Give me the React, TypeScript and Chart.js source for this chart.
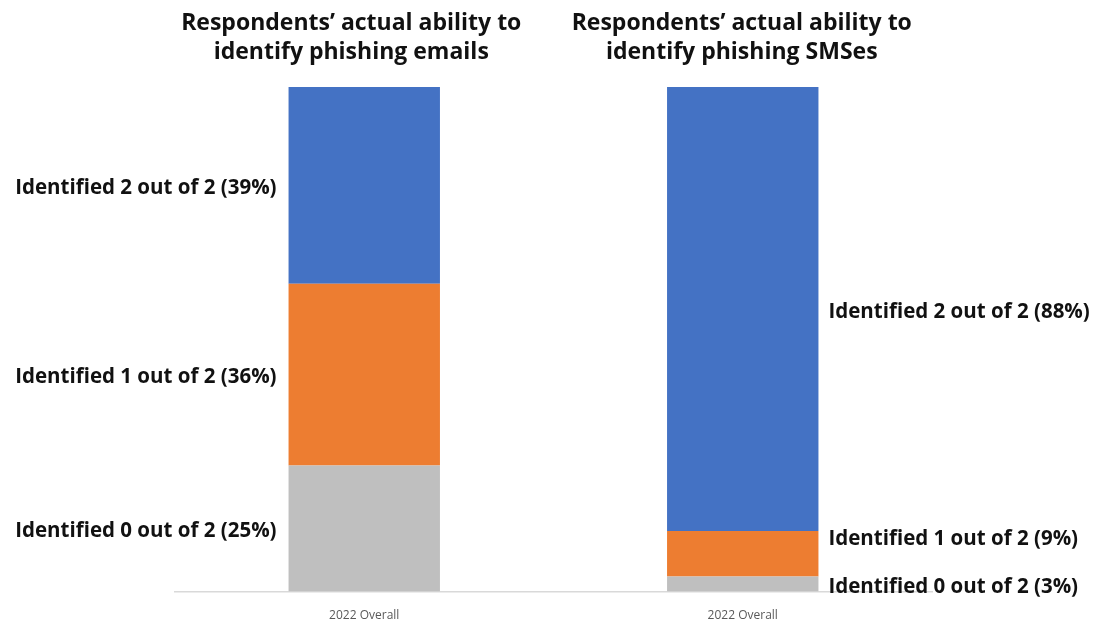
import React, { useEffect, useRef } from "react";
import { Chart, registerables } from "chart.js";

Chart.register(...registerables);

const categories = ["2022 Overall", "2022 Overall"];
const chartTitles = [
  ["Respondents’ actual ability to", "identify phishing emails"],
  ["Respondents’ actual ability to", "identify phishing SMSes"],
];
const seriesNames = ["Identified 0 out of 2", "Identified 1 out of 2", "Identified 2 out of 2"];
const identified0 = [25, 3];
const identified1 = [36, 9];
const identified2 = [39, 88];
const seriesColors = ["#BFBFBF", "#ED7D31", "#4472C4"];

const FONT = "'Open Sans', 'Noto Sans', sans-serif";

const labelPlugin = {
  id: "sideLabels",
  afterDatasetsDraw(chart: any) {
    const ctx = chart.ctx;
    const area = chart.chartArea;
    const nCats = categories.length;
    ctx.save();
    for (let i = 0; i < nCats; i++) {
      const items: { text: string; x: number; y: number; align: CanvasTextAlign }[] = [];
      let barX = 0;
      chart.data.datasets.forEach((ds: any, di: number) => {
        const el: any = chart.getDatasetMeta(di).data[i];
        const w = el.width;
        barX = el.x;
        const cy = (el.y + el.base) / 2;
        const left = i === 0;
        items.push({
          text: `${ds.label} (${ds.data[i]}%)`,
          x: left ? el.x - w / 2 - 12 : el.x + w / 2 + 10,
          y: cy,
          align: left ? "right" : "left",
        });
      });
      // resolve overlaps from bottom up
      const minGap = 48;
      for (let k = 1; k < items.length; k++) {
        if (items[k - 1].y - items[k].y < minGap) items[k].y = items[k - 1].y - minGap;
      }
      ctx.fillStyle = "#111111";
      ctx.font = `bold 20.5px ${FONT}`;
      ctx.textBaseline = "middle";
      items.forEach((it) => {
        ctx.textAlign = it.align;
        ctx.fillText(it.text, it.x, it.y + 3);
      });
      // titles
      ctx.textAlign = "center";
      ctx.font = `bold 23px ${FONT}`;
      chartTitles[i].forEach((line, li) => {
        ctx.fillText(line, barX - (i === 0 ? 13 : 1), area.top - 64 + li * 29);
      });
    }
    ctx.restore();
  },
};

export default function App() {
  const ref = useRef<HTMLCanvasElement>(null);
  useEffect(() => {
    if (!ref.current) return;
    const chart = new Chart(ref.current, {
      type: "bar",
      data: {
        labels: categories,
        datasets: [identified0, identified1, identified2].map((d, idx) => ({
          label: seriesNames[idx],
          data: d,
          backgroundColor: seriesColors[idx],
          barPercentage: 0.4,
          categoryPercentage: 1,
          borderWidth: 0,
        })),
      },
      options: {
        animation: false,
        responsive: true,
        maintainAspectRatio: false,
        layout: { padding: { left: 175, right: 165, top: 87, bottom: -16 } },
        plugins: { legend: { display: false }, tooltip: { enabled: false }, title: { display: false } },
        scales: {
          x: {
            stacked: true,
            grid: { display: false, drawTicks: false },
            border: { display: true, color: "#D9D9D9", width: 1.5 },
            ticks: { color: "#595959", font: { family: FONT, size: 12 }, padding: 17 },
          },
          y: {
            stacked: true,
            display: false,
            min: 0,
            max: 100,
          },
        },
      },
      plugins: [labelPlugin],
    });
    return () => chart.destroy();
  }, []);
  return (
    <div style={{ position: "fixed", left: 0, top: 0, width: 1097, height: 624, background: "#fff" }}>
      <canvas ref={ref} />
    </div>
  );
}
